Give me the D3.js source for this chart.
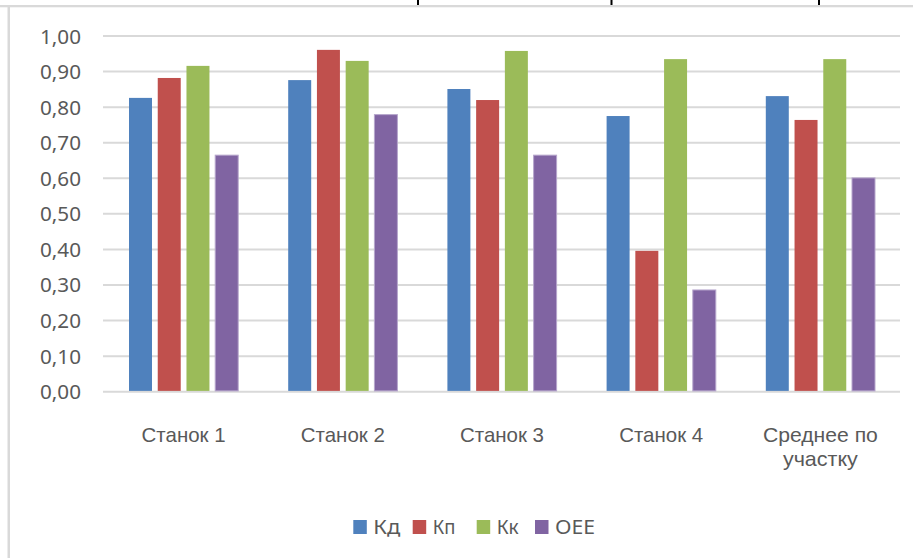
<!DOCTYPE html>
<html lang="ru">
<head>
<meta charset="utf-8">
<script src="https://cdn.jsdelivr.net/npm/d3@7"></script>
<style>
  html, body { margin: 0; padding: 0; background: #fff; }
  svg { display: block; }
  text { font-family: "Noto Sans", "Open Sans", sans-serif; fill: #595959; }
  text.cat { font-family: "Liberation Sans", Arial, sans-serif; }
</style>
</head>
<body>
<svg id="chart" width="913" height="558"></svg>
<script>
// Machine utilisation indicators per machine and the section average
const categories = ["Станок 1", "Станок 2", "Станок 3", "Станок 4", "Среднее по участку"];
const categoryLines = [["Станок 1"], ["Станок 2"], ["Станок 3"], ["Станок 4"], ["Среднее по", "участку"]];
const series = ["Кд", "Кп", "Кк", "OEE"];
const kd  = [0.826, 0.876, 0.851, 0.775, 0.831];
const kp  = [0.882, 0.961, 0.820, 0.396, 0.764];
const kk  = [0.916, 0.930, 0.958, 0.935, 0.935];
const oee = [0.665, 0.779, 0.665, 0.286, 0.601];
const yTicks = [0, 0.1, 0.2, 0.3, 0.4, 0.5, 0.6, 0.7, 0.8, 0.9, 1.0];
const colors = ["#4f81bd", "#c0504d", "#9bbb59", "#8064a2"];

const values = [kd, kp, kk, oee];
const svg = d3.select("#chart");

// Frame lines of the surrounding page
svg.append("rect").attr("x", 0).attr("y", 5).attr("width", 913).attr("height", 2.3).attr("fill", "#d9d9d9");
[418, 611.5, 819].forEach(x => {
  svg.append("rect").attr("x", x - 1).attr("y", 0).attr("width", 2).attr("height", 5).attr("fill", "#000");
});
svg.append("rect").attr("x", 7.5).attr("y", 7).attr("width", 2.5).attr("height", 551).attr("fill", "#d9d9d9");

// Scales
const x0 = d3.scaleBand().domain(categories).range([104, 900]).padding(0);
const x1 = d3.scaleBand().domain(series).range([0, x0.bandwidth()]).paddingInner(0.2).paddingOuter(0.87);
const y = d3.scaleLinear().domain([0, 1]).range([391.7, 36]);
const color = d3.scaleOrdinal().domain(series).range(colors);

// Gridlines
svg.append("g").selectAll("line").data(yTicks).join("line")
  .attr("x1", 103).attr("x2", 900)
  .attr("y1", d => y(d)).attr("y2", d => y(d))
  .attr("stroke", "#d9d9d9").attr("stroke-width", 2);

// Y axis labels
const fmt = d => d3.format(".2f")(d).replace(".", ",");
svg.append("g").selectAll("text").data(yTicks).join("text")
  .attr("x", 81).attr("y", d => y(d))
  .attr("text-anchor", "end").attr("dominant-baseline", "central")
  .attr("font-size", 19.6)
  .attr("textLength", 41).attr("lengthAdjust", "spacingAndGlyphs")
  .text(fmt);

// Bars
const groups = svg.append("g").selectAll("g").data(categories).join("g")
  .attr("transform", c => `translate(${x0(c)},0)`);
groups.selectAll("rect")
  .data((c, i) => series.map((s, j) => ({ s, v: values[j][i] })))
  .join("rect")
  .attr("x", d => x1(d.s))
  .attr("width", x1.bandwidth())
  .attr("y", d => y(d.v))
  .attr("height", d => y(0) - 0.8 - y(d.v))
  .attr("fill", d => color(d.s))
  .attr("stroke", d => d.s === "OEE" ? "#b6a6cc" : "none")
  .attr("stroke-width", 1);

// Category labels (wrapped labels are one text with a tspan per line)
const catWidths = { "Станок 1": 84, "Станок 2": 84, "Станок 3": 84, "Станок 4": 84, "Среднее по": 115, "участку": 75 };
categories.forEach((c, i) => {
  const cx = x0(c) + x0.bandwidth() / 2;
  const t = svg.append("text")
    .attr("class", "cat")
    .attr("text-anchor", "middle")
    .attr("font-size", 21);
  categoryLines[i].forEach((line, k) => {
    t.append("tspan")
      .attr("x", cx)
      .attr("y", 441.5 + k * 24.5)
      .attr("textLength", catWidths[line]).attr("lengthAdjust", "spacingAndGlyphs")
      .text(line);
  });
});

// Legend
const legendX = [353.3, 412.7, 476.7, 535];
const legendW = [27, 22.6, 22, 40];
const legend = svg.append("g").selectAll("g").data(series).join("g")
  .attr("transform", (d, i) => `translate(${legendX[i]},520)`);
legend.append("rect").attr("width", 13.5).attr("height", 14).attr("fill", d => color(d));
legend.append("text")
  .attr("x", 20).attr("y", 13.5)
  .attr("font-size", 19)
  .attr("textLength", (d, i) => legendW[i]).attr("lengthAdjust", "spacingAndGlyphs")
  .text(d => d);
</script>
</body>
</html>
